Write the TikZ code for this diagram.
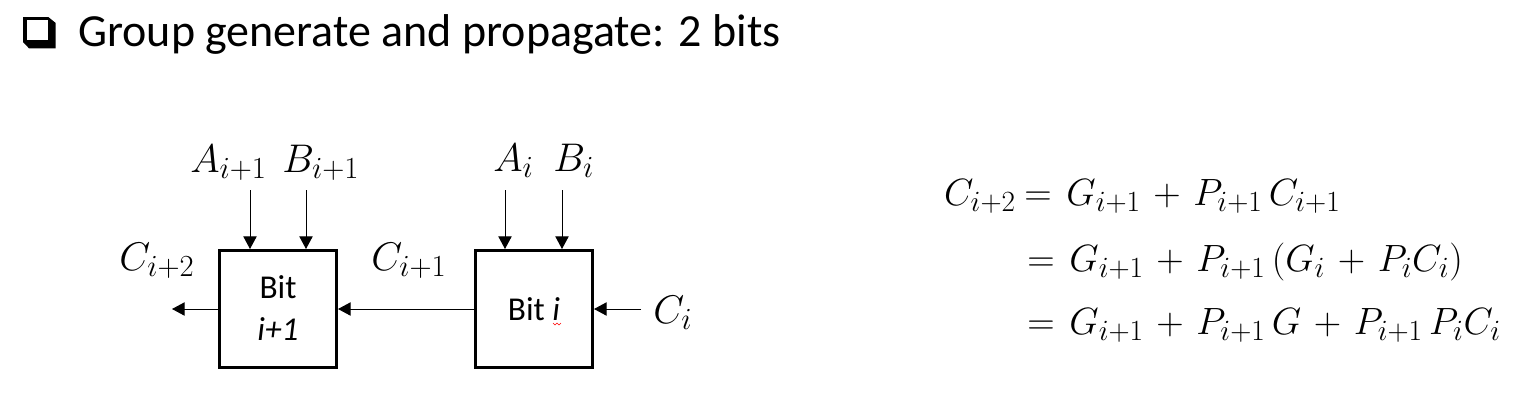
\RequirePackage{fix-cm}
\documentclass[tikz,border=0pt]{standalone}
\usepackage{fontspec}
\setmainfont{Carlito}
\DeclareMathSizes{28.5}{28.5}{22}{17}
\DeclareMathSizes{30}{30}{23}{18}
\newcommand{\eqspacing}{\medmuskip=6mu\relax\thickmuskip=7mu\relax}
\usetikzlibrary{arrows.meta}
\begin{document}
\begin{tikzpicture}[x=0.75pt,y=-0.75pt,
  bitbox/.style={draw, line width=2.25pt, minimum width=87.75pt, minimum height=87.75pt, inner sep=0pt},
  boxtxt/.style={font=\fontsize{25}{30}\selectfont, inner sep=0pt, anchor=base},
  lbl/.style={font=\fontsize{30}{36}\selectfont, inner sep=0pt, anchor=base west},
  eqf/.style={font=\fontsize{28.5}{34}\selectfont, inner sep=0pt},
  arr/.style={line width=0.75pt, -{Triangle[width=10pt,length=9.5pt]}}]
\useasboundingbox (0,0) rectangle (1522,401);

% title with checkbox bullet
\fill (23,17) -- (48.3,17) -- (55.7,23) -- (55.7,48.3) -- (29,48.3) -- (23,42) -- cycle;
\fill[white] (26.5,20) rectangle (48.3,40);
\node[anchor=base west, font=\fontsize{34.5}{40}\selectfont, inner sep=0pt] (title) at (78,46.7) {Group generate and propagate: 2 bits};

% boxes
\node[bitbox] (b1) at (278,309) {};
\node[bitbox] (b0) at (534,309) {};
\node[boxtxt] (b1t) at (278,298) {Bit};
\node[boxtxt] (b1u) at (278,340) {\textit{i+1}};
\node[boxtxt] (b0t) at (534,320) {Bit \textit{i}};
\draw[red, line width=0.5pt] (553,323) -- (555,325) -- (557,323) -- (559,325) -- (561,323);

% input labels
\node[lbl] (A1) at (190,172) {$A_{i+1}$};
\node[lbl] (B1) at (282,172) {$B_{i+1}$};
\node[lbl] (A0) at (493,171) {$A_i$};
\node[lbl] (B0) at (553,171) {$B_i$};
\node[lbl] (C2) at (119,270) {$C_{i+2}$};
\node[lbl] (C1) at (371,270) {$C_{i+1}$};
\node[lbl] (C0) at (653,323) {$C_i$};

% arrow endpoints
\coordinate (a1s) at (250,190);
\coordinate (b1s) at (306,190);
\coordinate (a0s) at (505,190);
\coordinate (b0s) at (562,190);
\coordinate (cin) at (641,309);
\coordinate (cout) at (172,309);

\draw[arr] (a1s) -- (a1s |- b1.north);
\draw[arr] (b1s) -- (b1s |- b1.north);
\draw[arr] (a0s) -- (a0s |- b0.north);
\draw[arr] (b0s) -- (b0s |- b0.north);
\draw[arr] (cin) -- (b0.east);
\draw[arr] (b0.west) -- (b1.east);
\draw[arr] (b1.west) -- (cout);

% equations
\node[eqf, anchor=base east] (e1l) at (1016,205) {$C_{i+2}$};
\node[eqf, anchor=base west] (e1r) at (1024,205) {\eqspacing$= G_{i+1} + P_{i+1}\,C_{i+1}$};
\node[eqf, anchor=base west] (e2) at (1027,271) {\eqspacing$= G_{i+1} + P_{i+1}\,(G_i + P_iC_i)$};
\node[eqf, anchor=base west] (e3) at (1027,334) {\eqspacing$= G_{i+1} + P_{i+1}\,G + P_{i+1}\,P_iC_i$};
\end{tikzpicture}
\end{document}
